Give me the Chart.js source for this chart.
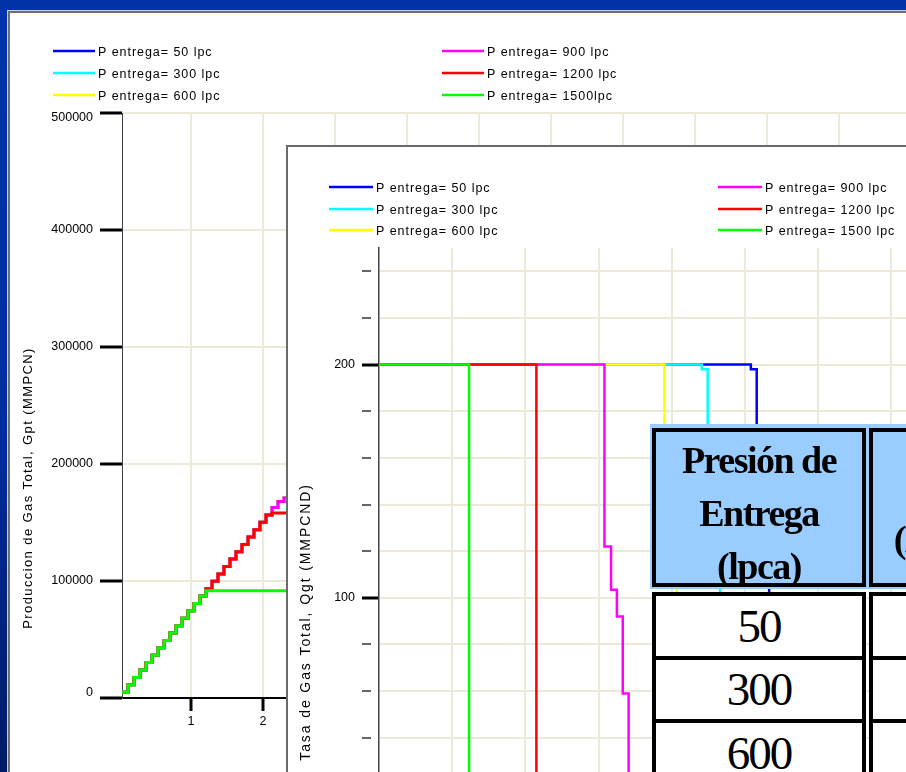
<!DOCTYPE html>
<html lang="es">
<head>
<meta charset="utf-8">
<title>Presión de entrega: Gpt y Qgt</title>
<script src="https://cdn.jsdelivr.net/npm/chart.js@4.4.1/dist/chart.umd.min.js"></script>
<style>
  html, body { margin: 0; padding: 0; }
  body {
    width: 906px; height: 772px; overflow: hidden; position: relative;
    background: linear-gradient(to bottom, #0033aa 0%, #002d9e 55%, #001a66 100%);
  }
  #panel { position: absolute; left: 8px; top: 11px; width: 1000px; height: 900px;
           background: #fff; border: 2px solid #6e6e6e; box-shadow: -1px -1px 0 #c8d2ee; }
  #c1 { position: absolute; left: 0; top: 0; }
  #marco2 { position: absolute; left: 286px; top: 145px; width: 700px; height: 700px;
            background: #fff; border: 2px solid #6a6a6a; overflow: hidden; }
  #c2 { position: absolute; left: 0; top: 0; }
  .fondo { position: absolute; left: 650px; top: 424px; width: 300px; height: 165px; background: #99ccff; }
  .celda { position: absolute; box-sizing: border-box; border: 4px solid #000; width: 214px;
           display: flex; align-items: center; justify-content: center; text-align: center;
           font-family: "Liberation Serif", "Times New Roman", serif; color: #000; }
  .cab { top: 428px; height: 159px; background: #99ccff; font-weight: bold; font-size: 38px;
         letter-spacing: -1.5px; line-height: 53px; padding-top: 11px; }
  .dato { background: #fff; font-size: 47px; letter-spacing: -2px; }
</style>
</head>
<body>
<div id="panel"></div>
<canvas id="c1" width="1209" height="772"></canvas>
<div id="marco2"><canvas id="c2" width="833" height="740"></canvas></div>
<div id="tabla"></div>
<script>
// tiempo (años), un punto por mes
const tMes = [0.042, 0.125, 0.208, 0.292, 0.375, 0.458, 0.542, 0.625, 0.708, 0.792, 0.875, 0.958,
              1.042, 1.125, 1.208, 1.292, 1.375, 1.458, 1.542, 1.625, 1.708, 1.792, 1.875, 1.958,
              2.042, 2.125, 2.208, 2.292, 2.375, 2.458, 2.542, 2.625, 2.708, 2.792, 2.875, 2.958];
// Gpt acumulado (MMPCN) mientras dura la meseta (comun a 50, 300, 600 y 900 lpc)
const gptMeseta = [5000, 11300, 17600, 23900, 30300, 36600, 42900, 49200, 55500, 61800, 68100, 74500,
                   80800, 87100, 93400, 99700, 106000, 112300, 118700, 125000, 131300, 137600, 143900, 150200,
                   156500, 162900, 168000, 171000, 177300, 183600, 189900, 196200, 202500, 208900, 215200, 221500];
const gpt1200 = [5000, 11300, 17600, 23900, 30300, 36600, 42900, 49200, 55500, 61800, 68100, 74500,
                 80800, 87100, 93400, 99700, 106000, 112300, 118700, 125000, 131300, 137600, 143900, 150200,
                 156500, 158200, 158200, 158200, 158200, 158200, 158200, 158200, 158200, 158200, 158200, 158200];
const gpt1500 = [5000, 11300, 17600, 23900, 30300, 36600, 42900, 49200, 55500, 61800, 68100, 74500,
                 80800, 87100, 91700, 91700, 91700, 91700, 91700, 91700, 91700, 91700, 91700, 91700,
                 91700, 91700, 91700, 91700, 91700, 91700, 91700, 91700, 91700, 91700, 91700, 91700];

// Qgt (MMPCND) contra tiempo (años)
const tQ50 = [0, 5.08, 5.16, 5.24, 5.33, 5.41, 5.49, 5.58, 10];
const qg50 = [200, 198, 126, 107, 95, 62, 23, 0, 0];
const tQ300 = [0, 4.41, 4.49, 4.57, 4.66, 4.74, 4.82, 4.91, 10];
const qg300 = [200, 198, 125, 106, 94, 61, 22, 0, 0];
const tQ600 = [0, 3.90, 3.98, 4.07, 4.15, 4.23, 4.32, 10];
const qg600 = [200, 124, 105, 93, 60, 21, 0, 0];
const tQ900 = [0, 3.08, 3.17, 3.25, 3.33, 3.41, 3.50, 10];
const qg900 = [200, 122, 103.5, 92, 59, 20, 0, 0];
const tQ1200 = [0, 2.15, 10];
const qg1200 = [200, 0, 0];
const tQ1500 = [0, 1.23, 10];
const qg1500 = [200, 0, 0];

const presionEntrega = [50, 300, 600, 900, 1200, 1500];
const colores = ["#0000ff", "#00ffff", "#ffff00", "#ff00ff", "#ff0000", "#00ff00"];
const etiquetasGp = ["P entrega= 50 lpc", "P entrega= 300 lpc", "P entrega= 600 lpc",
                     "P entrega= 900 lpc", "P entrega= 1200 lpc", "P entrega= 1500lpc"];
const etiquetasQg = ["P entrega= 50 lpc", "P entrega= 300 lpc", "P entrega= 600 lpc",
                     "P entrega= 900 lpc", "P entrega= 1200 lpc", "P entrega= 1500 lpc"];

Chart.defaults.font.family = "'Liberation Sans', Arial, sans-serif";
Chart.defaults.color = "#000";

const rejilla = "#ece9d8";
const nada = "rgba(0,0,0,0)";

// leyenda en dos columnas y titulo del eje y
const rotulos = {
    id: "rotulos",
    afterDraw(chart, _args, o) {
        const ctx = chart.ctx;
        ctx.save();
        ctx.font = o.font;
        ctx.letterSpacing = o.espacio + "px";
        ctx.textBaseline = "middle";
        chart.data.datasets.forEach((ds, i) => {
            const x = o.colX[Math.floor(i / 3)];
            const y = o.filaY[i % 3];
            ctx.strokeStyle = ds.borderColor;
            ctx.lineWidth = 2.5;
            ctx.beginPath();
            ctx.moveTo(x, y);
            ctx.lineTo(x + o.largo, y);
            ctx.stroke();
            ctx.fillStyle = "#000";
            ctx.fillText(ds.label, x + o.largo + 3, y + 2);
        });
        const t = o.titulo;
        ctx.font = t.font;
        ctx.letterSpacing = t.espacio + "px";
        ctx.translate(t.x, t.y);
        ctx.rotate(-Math.PI / 2);
        ctx.textAlign = "center";
        ctx.fillText(t.texto, 0, 0);
        ctx.restore();
    },
};

// grafico de produccion acumulada
const seriesGp = [gptMeseta, gptMeseta, gptMeseta, gptMeseta, gpt1200, gpt1500];
new Chart(document.getElementById("c1"), {
    type: "line",
    plugins: [rotulos],
    data: {
        datasets: seriesGp.map((vals, i) => ({
            label: etiquetasGp[i],
            data: vals.map((y, k) => ({ x: tMes[k], y: y })),
            borderColor: colores[i],
            borderWidth: 3,
            pointRadius: 0,
            stepped: "before",
            order: 6 - i,
        })),
    },
    options: {
        responsive: false,
        animation: false,
        events: [],
        layout: { padding: { left: 0, top: 113, right: 10, bottom: 34 } },
        plugins: {
            legend: { display: false },
            tooltip: { enabled: false },
            rotulos: {
                font: "12.5px 'Liberation Sans', Arial, sans-serif",
                espacio: 0.95,
                colX: [53, 442],
                filaY: [51, 73, 95],
                largo: 42,
                titulo: {
                    texto: "Produccion de Gas Total, Gpt (MMPCN)",
                    font: "13px 'Liberation Sans', Arial, sans-serif",
                    espacio: 1.4, x: 28, y: 488,
                },
            },
        },
        scales: {
            x: {
                type: "linear", min: 0.042, max: 15,
                afterFit: (s) => { s.height = 40; },
                border: { color: "#000", width: 2 },
                grid: { color: rejilla, lineWidth: 2, tickColor: "#000", tickWidth: 3, tickLength: 13 },
                ticks: { stepSize: 1, includeBounds: false, autoSkip: false, maxRotation: 0,
                         padding: 3, font: { size: 12.5 } },
            },
            y: {
                min: 0, max: 500000,
                afterFit: (s) => { s.width = 122; },
                border: { color: "#404040", width: 1 },
                grid: {
                    color: (c) => (c.tick && c.tick.value === 0 ? nada : rejilla),
                    lineWidth: 2, tickColor: "#000", tickWidth: 3, tickLength: 22,
                },
                ticks: {
                    stepSize: 100000, padding: 7, font: { size: 12.5, lineHeight: 0.8 },
                    callback: (v) => (v === 500000 ? ["", String(v)] : v === 0 ? ["0", ""] : String(v)),
                },
            },
        },
    },
});

// grafico de tasa de gas
const tiemposQg = [tQ50, tQ300, tQ600, tQ900, tQ1200, tQ1500];
const seriesQg = [qg50, qg300, qg600, qg900, qg1200, qg1500];
new Chart(document.getElementById("c2"), {
    type: "line",
    plugins: [rotulos],
    data: {
        datasets: seriesQg.map((vals, i) => ({
            label: etiquetasQg[i],
            data: vals.map((y, k) => ({ x: tiemposQg[i][k], y: y })),
            borderColor: colores[i],
            borderWidth: 2.5,
            pointRadius: 0,
            stepped: "before",
            order: 6 - i,
        })),
    },
    options: {
        responsive: false,
        animation: false,
        events: [],
        layout: { padding: { left: 0, top: 101, right: 10, bottom: 16 } },
        plugins: {
            legend: { display: false },
            tooltip: { enabled: false },
            rotulos: {
                font: "12.5px 'Liberation Sans', Arial, sans-serif",
                espacio: 0.95,
                colX: [41, 430],
                filaY: [40, 62, 83],
                largo: 44,
                titulo: {
                    texto: "Tasa de Gas Total, Qgt (MMPCND)",
                    font: "14px 'Liberation Sans', Arial, sans-serif",
                    espacio: 1.9, x: 18, y: 475,
                },
            },
        },
        scales: {
            x: {
                type: "linear", min: 0, max: 10,
                afterFit: (s) => { s.height = 40; },
                border: { color: "#000", width: 2 },
                grid: {
                    color: (c) => (c.tick && c.tick.value === 0 ? nada : rejilla),
                    lineWidth: 2, tickColor: "#000", tickWidth: 3, tickLength: 13,
                },
                ticks: { stepSize: 1, autoSkip: false, maxRotation: 0, padding: 3, font: { size: 12.5 } },
            },
            y: {
                min: 0, max: 250,
                afterFit: (s) => { s.width = 91; },
                border: { color: "#404040", width: 1.5 },
                grid: {
                    color: (c) => (c.tick && c.tick.value === 0 ? nada : rejilla),
                    lineWidth: 2,
                    tickColor: (c) => (c.tick && c.tick.value % 100 === 0 ? "#000" : "#333"),
                    tickWidth: (c) => (c.tick && c.tick.value % 100 === 0 ? 3 : 1.5),
                    tickBorderDash: (c) => (c.tick && c.tick.value % 100 === 0 ? [] : [9, 40]),
                    tickLength: 17,
                },
                ticks: {
                    stepSize: 20, includeBounds: false, autoSkip: false, padding: 7, font: { size: 12.5 },
                    callback: (v) => (v % 100 === 0 ? String(v) : ""),
                },
            },
        },
    },
});

// tabla de presion de entrega
const tabla = document.getElementById("tabla");
const fondo = document.createElement("div");
fondo.className = "fondo";
tabla.appendChild(fondo);
[["Presión de", "Entrega", "(lpca)"], ["Tasa", "(MMPCND)"]].forEach((lineas, j) => {
    const c = document.createElement("div");
    c.className = "celda cab";
    c.style.left = (652 + j * 217) + "px";
    if (j === 1) c.style.paddingLeft = "26px";
    c.innerHTML = lineas.join("<br>");
    tabla.appendChild(c);
});
presionEntrega.forEach((p, i) => {
    for (let j = 0; j < 2; j++) {
        const c = document.createElement("div");
        c.className = "celda dato";
        c.style.left = (652 + j * 217) + "px";
        c.style.top = (592 + i * 63.5) + "px";
        c.style.height = "67.5px";
        c.textContent = j === 0 ? String(p) : "";
        tabla.appendChild(c);
    }
});
</script>
</body>
</html>
